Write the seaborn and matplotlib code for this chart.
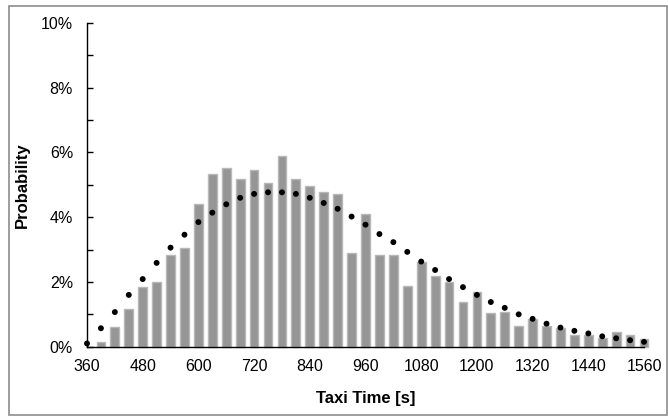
import numpy as np
import pandas as pd
import matplotlib
matplotlib.use('Agg')
import matplotlib.pyplot as plt
import seaborn as sns
from matplotlib.patches import Rectangle
from matplotlib.ticker import MultipleLocator, FuncFormatter

# taxi time bins [s]
bar_time = [390, 420, 450, 480, 510, 540, 570, 600, 630, 660, 690, 720, 750, 780,
            810, 840, 870, 900, 930, 960, 990, 1020, 1050, 1080, 1110, 1140, 1170,
            1200, 1230, 1260, 1290, 1320, 1350, 1380, 1410, 1440, 1470, 1500, 1530, 1560]
# observed probability [%]
bar_prob = [0.13, 0.60, 1.16, 1.83, 2.01, 2.82, 3.04, 4.40, 5.34, 5.52, 5.18, 5.46, 5.05, 5.90,
            5.18, 4.97, 4.78, 4.71, 2.91, 4.09, 2.82, 2.82, 1.88, 2.63, 2.19, 2.01, 1.38,
            1.68, 1.03, 1.07, 0.64, 0.86, 0.64, 0.57, 0.35, 0.35, 0.27, 0.44, 0.35, 0.23]

# fitted distribution
fit_time = [360] + bar_time
fit_prob = [0.10, 0.57, 1.07, 1.60, 2.09, 2.59, 3.06, 3.46, 3.85, 4.14, 4.40, 4.60, 4.72, 4.77,
            4.77, 4.72, 4.60, 4.44, 4.26, 4.02, 3.77, 3.48, 3.23, 2.93, 2.63, 2.37, 2.09,
            1.84, 1.60, 1.38, 1.20, 1.00, 0.86, 0.71, 0.59, 0.49, 0.41, 0.32, 0.26, 0.20, 0.15]

sns.set_theme(style='white')
plt.rcParams['font.family'] = ['Liberation Sans', 'DejaVu Sans']

fig = plt.figure(figsize=(6.68, 4.17), dpi=100)
ax = fig.add_axes([87/668, 1 - 346.7/417, (644 - 87)/668, (346.7 - 23)/417])

# outer frame
fig.patches.append(Rectangle((9/668, 2/417), 658/668, 409/417, transform=fig.transFigure,
                             fill=False, edgecolor='#8c8c8c', linewidth=1.2))

bars = pd.DataFrame({'t': bar_time, 'p': bar_prob})
fit = pd.DataFrame({'t': fit_time, 'p': fit_prob})

sns.barplot(data=bars, x='t', y='p', native_scale=True, width=0.63, color='#969696',
            saturation=1, edgecolor='#b8b8b8', linewidth=1, ax=ax)
for patch in ax.patches:
    patch.set_clip_on(False)

sns.scatterplot(data=fit, x='t', y='p', color='black', s=18, edgecolor='none',
                ax=ax, clip_on=False, zorder=3)

ax.set_xlim(360, 1560)
ax.set_ylim(0, 10)
ax.xaxis.set_major_locator(MultipleLocator(120))
ax.yaxis.set_major_locator(MultipleLocator(2))
ax.yaxis.set_minor_locator(MultipleLocator(1))
ax.yaxis.set_major_formatter(FuncFormatter(lambda v, _: f'{v:.0f}%'))

for side in ['top', 'right']:
    ax.spines[side].set_visible(False)
for side in ['left', 'bottom']:
    ax.spines[side].set_color('black')
    ax.spines[side].set_linewidth(1)

ax.tick_params(axis='both', which='both', direction='in', color='black', width=1,
               labelsize=11.5, labelcolor='black')
ax.tick_params(axis='both', which='major', length=4)
ax.tick_params(axis='y', which='minor', length=4, left=True)
ax.tick_params(axis='x', which='major', bottom=True, pad=9)
ax.tick_params(axis='y', which='major', left=True, pad=10)

ax.set_xlabel('Taxi Time [s]', fontsize=12, fontweight='bold', color='black')
ax.set_ylabel('Probability', fontsize=12, fontweight='bold', color='black')
ax.xaxis.set_label_coords(0.5, (346.7 - 398) / (346.7 - 23) )
ax.yaxis.set_label_coords((22 - 87) / (644 - 87), 0.5)
ax.xaxis.label.set_va('center')
ax.yaxis.label.set_va('center')

fig.savefig('out.png', dpi=100, facecolor='white')
